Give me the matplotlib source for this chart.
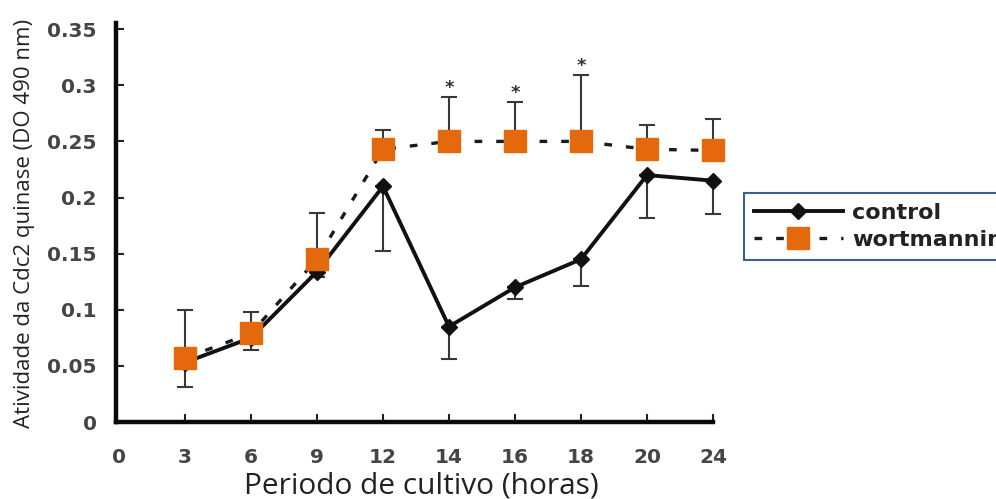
import numpy as np
import matplotlib
matplotlib.use("Agg")
import matplotlib.pyplot as plt
from matplotlib.lines import Line2D

# ---- data ----
categories = ['0', '3', '6', '9', '12', '14', '16', '18', '20', '24']
hours = ['3', '6', '9', '12', '14', '16', '18', '20', '24']
control = [0.053, 0.075, 0.134, 0.210, 0.085, 0.120, 0.145, 0.220, 0.215]
control_err_low = [0.031, 0.064, 0.129, 0.152, 0.056, 0.110, 0.121, 0.182, 0.185]
wortmannin = [0.057, 0.079, 0.145, 0.243, 0.250, 0.250, 0.250, 0.243, 0.242]
wort_err_high = [0.100, 0.098, 0.186, 0.260, 0.290, 0.285, 0.309, 0.265, 0.270]
significant = ['14', '16', '18']
yticks = [0, 0.05, 0.1, 0.15, 0.2, 0.25, 0.3, 0.35]
ytick_labels = ['0', '0.05', '0.1', '0.15', '0.2', '0.25', '0.3', '0.35']

W, H = 996, 499
fig = plt.figure(figsize=(W / 100, H / 100), dpi=100)
ax = fig.add_axes([116 / W, 77 / H, (713 - 116) / W, (422 - 23) / H])

pos = {c: i for i, c in enumerate(categories)}
x = np.array([pos[h] for h in hours])
control = np.array(control)
wortmannin = np.array(wortmannin)

orange = '#E4690C'
ecol = '#383838'

# error bars
for eb in [
    ax.errorbar(x, control, yerr=[control - np.array(control_err_low), np.zeros_like(control)],
                fmt='none', ecolor=ecol, elinewidth=1.5, capsize=5.5, capthick=1.5, zorder=2),
    ax.errorbar(x, wortmannin, yerr=[np.zeros_like(wortmannin), np.array(wort_err_high) - wortmannin],
                fmt='none', ecolor=ecol, elinewidth=1.5, capsize=5.5, capthick=1.5, zorder=2),
]:
    for art in eb.lines[1] + eb.lines[2]:
        art.set_clip_on(False)

# lines
ax.plot(x, wortmannin, color='#1a1a1a', lw=2.4, dashes=(2.3, 4.2), zorder=3, clip_on=False)
ax.plot(x, control, color='#111111', lw=2.8, marker='D', ms=8.5, mfc='#111111',
        mec='#111111', zorder=4, clip_on=False)
ax.plot(x, wortmannin, ls='none', marker='s', ms=16.5, mfc=orange, mec=orange, zorder=5,
        clip_on=False)

# significance stars
for h in significant:
    i = hours.index(h)
    ax.annotate('*', (x[i], wort_err_high[i]), xytext=(0, 0), textcoords='offset points',
                ha='center', va='bottom', fontsize=13, fontweight='bold', color='#333333',
                family='DejaVu Sans')

ax.set_xlim(-0.045, 9.0)
ax.set_ylim(0, 0.3555)

ax.set_xticks(range(len(categories)))
ax.set_xticklabels(categories)
ax.set_yticks(yticks)
ax.set_yticklabels(ytick_labels)
ax.xaxis.get_major_ticks()[0].tick1line.set_visible(False)
ax.yaxis.get_major_ticks()[0].tick1line.set_visible(False)

for lab in ax.get_xticklabels() + ax.get_yticklabels():
    lab.set_fontfamily('DejaVu Sans')
    lab.set_fontweight('bold')
    lab.set_fontsize(14.5)
    lab.set_color('#454545')

ax.tick_params(axis='both', direction='in', length=6, width=1.5, color='#222222')
ax.tick_params(axis='x', pad=18.5)
ax.tick_params(axis='y', pad=14)

for s in ['top', 'right']:
    ax.spines[s].set_visible(False)
for s in ['left', 'bottom']:
    ax.spines[s].set_linewidth(3.2)
    ax.spines[s].set_color('#0a0a0a')

fig.text(421 / W, 1 - 486 / H, 'Periodo de cultivo (horas)', ha='center', va='center',
         fontsize=21.5, family='Open Sans', color='#222222')
fig.text(25 / W, 1 - 223 / H, 'Atividade da Cdc2 quinase (DO 490 nm)', ha='center', va='center',
         rotation=90, fontsize=16, family='Open Sans', color='#222222')

handles = [
    Line2D([], [], color='#111111', lw=2.8, marker='D', ms=8.5),
    Line2D([], [], color='#1a1a1a', lw=2.4, dashes=(2.3, 4.2), marker='s', ms=16,
           mfc=orange, mec=orange),
]
leg = fig.legend(handles, ['control', 'wortmannin'], loc='upper left',
                 bbox_to_anchor=(744 / W, 1 - 193 / H), borderaxespad=0,
                 frameon=True, fancybox=False, framealpha=1, handlelength=4.0,
                 handletextpad=0.4, labelspacing=0.3, borderpad=0.45,
                 prop={'family': 'DejaVu Sans', 'weight': 'bold', 'size': 16})
leg.get_frame().set_edgecolor('#3B5E9A')
leg.get_frame().set_linewidth(1.5)
for t in leg.get_texts():
    t.set_color('#222222')

fig.savefig('out.png', dpi=100)
